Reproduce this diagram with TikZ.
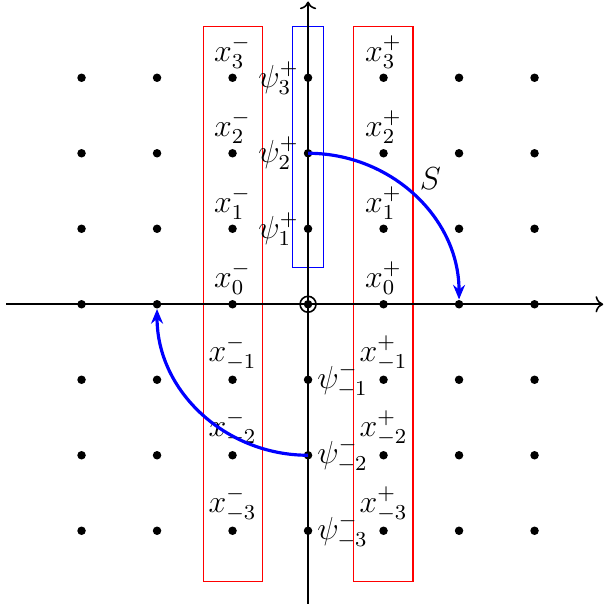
\documentclass[tikz,border=0pt]{standalone}
\usetikzlibrary{arrows.meta}
\begin{document}
\begin{tikzpicture}[
  font=\large,
  dot/.style={circle,fill=black,inner sep=0pt,minimum size=3.2pt},
  axis/.style={semithick,->},
  redbox/.style={draw=red,thin},
  bluebox/.style={draw=blue,thin},
  sarrow/.style={blue,very thick,-{Stealth[length=5.5pt,width=4.5pt,inset=1.8pt]}}
]
\useasboundingbox (-4.08,-3.97) rectangle (3.91,4.03);
% boxes
\draw[redbox] (-1.39,-3.67) rectangle (-0.6,3.68);
\draw[redbox] (0.6,-3.67) rectangle (1.39,3.68);
\draw[bluebox] (-0.2,0.49) rectangle (0.2,3.68);
% axes
\coordinate (xl) at (-4.0,0);
\coordinate (xr) at (3.91,0);
\coordinate (yb) at (0,-3.97);
\coordinate (yt) at (0,4.01);
\draw[axis] (xl) -- (xr);
\draw[axis] (yb) -- (yt);
% dots
\foreach \i in {-3,...,3}{
  \foreach \j in {-3,...,3}{
    \node[dot] (p\i\j) at (\i,\j) {};
  }
}
\node[circle,draw,semithick,inner sep=0pt,minimum size=6pt] (o) at (0,0) {};
% x labels
\foreach \j in {-3,...,3}{
  \node[above] (xm\j) at (p-1\j) {$x^-_{\j}$};
  \node[above] (xp\j) at (p1\j) {$x^+_{\j}$};
}
% psi labels
\foreach \j in {1,2,3}{
  \node[left] (psp\j) at (p0\j) {$\psi^+_{\j}$};
}
\foreach \j in {-1,-2,-3}{
  \node[right] (psm\j) at (p0\j) {$\psi^-_{\j}$};
}
% arrows S
\draw[sarrow] (p02.center) to[out=0,in=90] node[pos=0.5,above right,inner sep=1.5pt,text=black] (s) {$S$} (p20);
\draw[sarrow] (p0-2.center) to[out=180,in=-90] (p-20);
\end{tikzpicture}
\end{document}
